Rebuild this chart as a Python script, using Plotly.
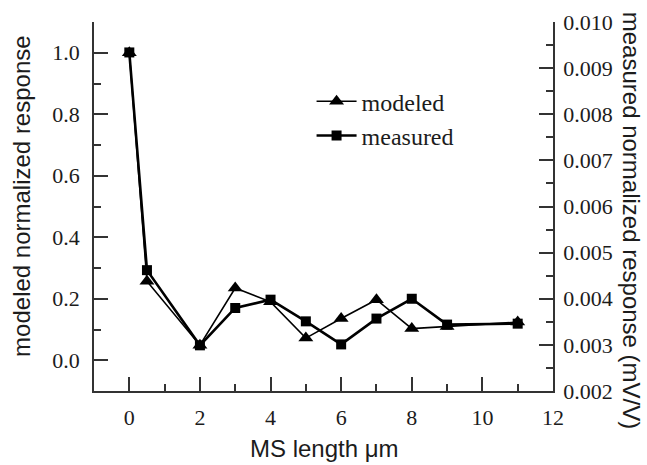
import plotly.graph_objects as go

x_vals = [0, 0.5, 2, 3, 4, 5, 6, 7, 8, 9, 11]
modeled = [1.0, 0.257, 0.049, 0.235, 0.19, 0.072, 0.136, 0.197, 0.103, 0.11, 0.124]
measured = [0.00934, 0.00462, 0.00299, 0.0038, 0.00398, 0.00351, 0.00301, 0.00357, 0.0040, 0.00344, 0.00346]

serif = "Liberation Serif, Times New Roman, serif"
sans = "Liberation Sans, Arial, sans-serif"
ink = "#1c1c1c"

fig = go.Figure()
fig.add_trace(go.Scatter(
    x=x_vals, y=modeled, name="modeled", mode="lines+markers",
    line=dict(color="black", width=1.6),
    marker=dict(symbol="triangle-up", size=13, color="black"),
))
fig.add_trace(go.Scatter(
    x=x_vals, y=measured, name="measured", mode="lines+markers", yaxis="y2",
    line=dict(color="black", width=2.6),
    marker=dict(symbol="square", size=10, color="black"),
))

axis_common = dict(
    showgrid=False, zeroline=False, showline=True, linecolor="#333", linewidth=1.5,
    ticks="inside", tickcolor="#333", tickwidth=1.5, ticklen=14, automargin=False,
    tickfont=dict(family=serif, size=22, color=ink),
)

fig.update_layout(
    width=647, height=465,
    margin=dict(l=94, r=94, t=22, b=74),
    paper_bgcolor="white", plot_bgcolor="white",
    showlegend=True,
    legend=dict(
        x=0.474, y=0.845, xanchor="left", yanchor="top",
        font=dict(family=serif, size=24, color=ink),
        bgcolor="rgba(0,0,0,0)", itemwidth=40,
    ),
    xaxis=dict(
        range=[-1, 12], tick0=0, dtick=2,
        minor=dict(ticks="inside", dtick=1, ticklen=7, tickcolor="#333", tickwidth=1.5),
        ticklabelstandoff=6,
        **axis_common,
    ),
    yaxis=dict(
        range=[-0.1, 1.1], tick0=0, dtick=0.2, tickformat=".1f",
        minor=dict(ticks="inside", dtick=0.1, ticklen=7, tickcolor="#333", tickwidth=1.5),
        ticklabelstandoff=8,
        **axis_common,
    ),
    yaxis2=dict(
        range=[0.002, 0.010], tick0=0.002, dtick=0.001, tickformat=".3f",
        overlaying="y", side="right",
        minor=dict(ticks="inside", dtick=0.0005, ticklen=7, tickcolor="#333", tickwidth=1.5),
        ticklabelstandoff=4,
        **axis_common,
    ),
    annotations=[
        dict(text="MS length μm", xref="paper", yref="paper",
             x=0.503, y=-0.155, xanchor="center", yanchor="middle", showarrow=False,
             font=dict(family=sans, size=24, color=ink)),
        dict(text="modeled normalized response", textangle=-90, xref="paper", yref="paper",
             x=-0.158, y=0.53, xanchor="center", yanchor="middle", showarrow=False,
             font=dict(family=sans, size=24, color=ink)),
        dict(text="measured normalized response (mV/V)", textangle=90, xref="paper", yref="paper",
             x=1.171, y=0.46, xanchor="center", yanchor="middle", showarrow=False,
             font=dict(family=sans, size=24, color=ink)),
    ],
)

fig.write_html("out.html")
